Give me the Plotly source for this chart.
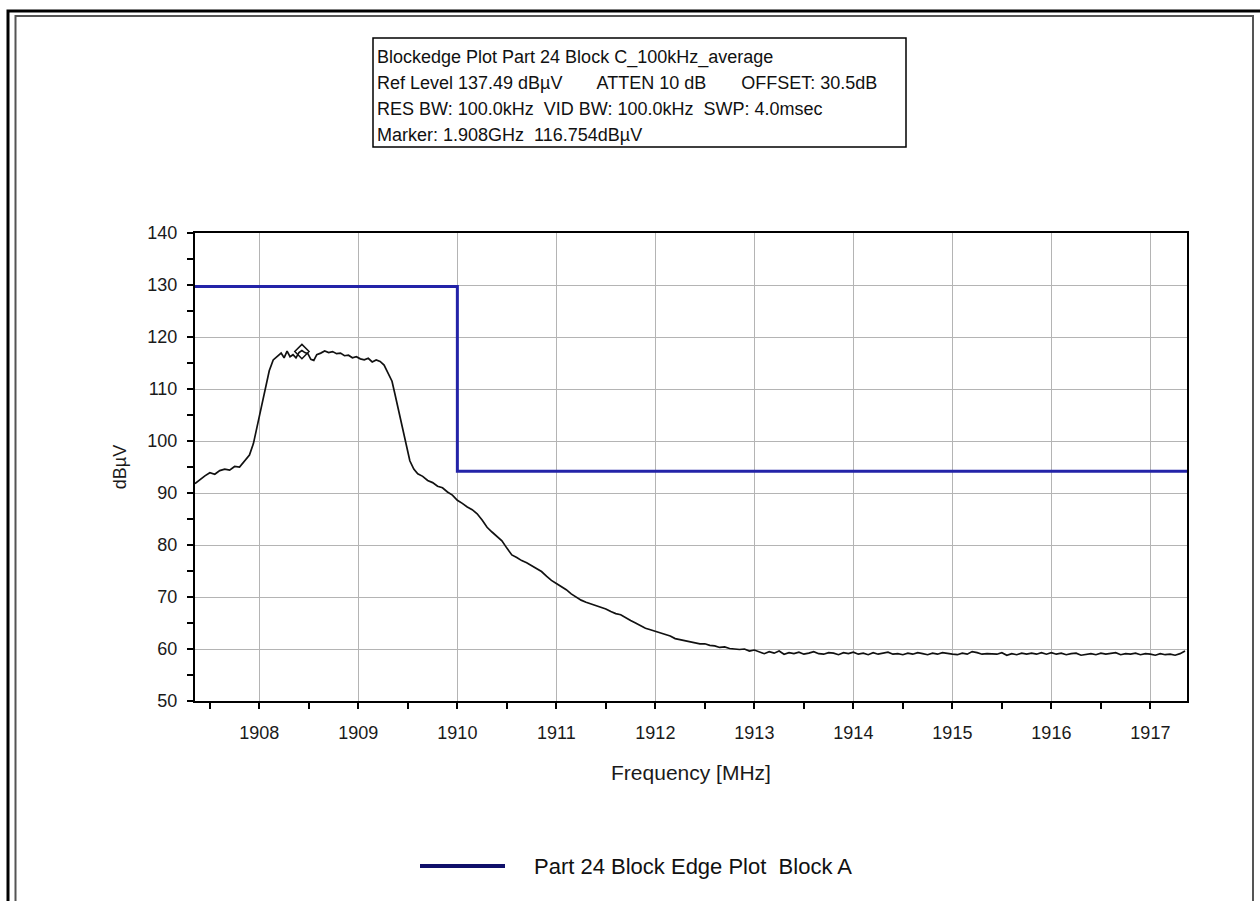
import plotly.graph_objects as go

# ---------------- data ----------------
freq_mhz = [
    1907.35, 1907.40, 1907.45, 1907.50, 1907.55, 1907.60, 1907.65, 1907.70, 1907.75, 1907.80,
    1907.85, 1907.90, 1907.94, 1907.98, 1908.02, 1908.06, 1908.10, 1908.14, 1908.18, 1908.22,
    1908.25, 1908.28, 1908.31, 1908.34, 1908.37, 1908.40, 1908.43, 1908.46, 1908.49, 1908.52,
    1908.55, 1908.58, 1908.62, 1908.66, 1908.70, 1908.74, 1908.78, 1908.82, 1908.86, 1908.90,
    1908.94, 1908.98, 1909.02, 1909.06, 1909.10, 1909.14, 1909.18, 1909.22, 1909.26, 1909.30,
    1909.34, 1909.37, 1909.40, 1909.43, 1909.46, 1909.49, 1909.52, 1909.56, 1909.60, 1909.65,
    1909.70, 1909.75, 1909.80, 1909.85, 1909.90, 1909.95, 1910.00, 1910.05, 1910.10, 1910.15,
    1910.20, 1910.25, 1910.30, 1910.35, 1910.40, 1910.45, 1910.50, 1910.55, 1910.60, 1910.65,
    1910.70, 1910.75, 1910.80, 1910.85, 1910.90, 1910.95, 1911.00, 1911.05, 1911.10, 1911.15,
    1911.20, 1911.25, 1911.30, 1911.35, 1911.40, 1911.45, 1911.50, 1911.55, 1911.60, 1911.65,
    1911.70, 1911.75, 1911.80, 1911.85, 1911.90, 1911.95, 1912.00, 1912.05, 1912.10, 1912.15,
    1912.20, 1912.25, 1912.30, 1912.35, 1912.40, 1912.45, 1912.50, 1912.55, 1912.60, 1912.65,
    1912.70, 1912.75, 1912.80, 1912.85, 1912.90, 1912.95, 1913.00, 1913.05, 1913.10, 1913.15,
    1913.20, 1913.25, 1913.30, 1913.35, 1913.40, 1913.45, 1913.50, 1913.55, 1913.60, 1913.65,
    1913.70, 1913.75, 1913.80, 1913.85, 1913.90, 1913.95, 1914.00, 1914.05, 1914.10, 1914.15,
    1914.20, 1914.25, 1914.30, 1914.35, 1914.40, 1914.45, 1914.50, 1914.55, 1914.60, 1914.65,
    1914.70, 1914.75, 1914.80, 1914.85, 1914.90, 1914.95, 1915.00, 1915.05, 1915.10, 1915.15,
    1915.20, 1915.25, 1915.30, 1915.35, 1915.40, 1915.45, 1915.50, 1915.55, 1915.60, 1915.65,
    1915.70, 1915.75, 1915.80, 1915.85, 1915.90, 1915.95, 1916.00, 1916.05, 1916.10, 1916.15,
    1916.20, 1916.25, 1916.30, 1916.35, 1916.40, 1916.45, 1916.50, 1916.55, 1916.60, 1916.65,
    1916.70, 1916.75, 1916.80, 1916.85, 1916.90, 1916.95, 1917.00, 1917.05, 1917.10, 1917.15,
    1917.20, 1917.25, 1917.30, 1917.35,
]
level_dbuv = [
    91.8, 92.6, 93.3, 93.9, 93.6, 94.3, 94.6, 94.4, 95.1, 95.0,
    96.2, 97.3, 99.5, 103.0, 107.0, 110.0, 113.5, 115.6, 116.3, 116.9,
    116.0, 117.3, 116.2, 116.6, 116.0, 117.0, 117.4, 117.0, 116.8, 115.7,
    115.5, 116.6, 116.9, 117.3, 117.0, 117.2, 116.8, 116.9, 116.4, 116.5,
    116.0, 116.2, 115.8, 115.6, 115.9, 115.2, 115.6, 115.3, 114.6, 113.2,
    111.5, 109.0, 106.5, 104.0, 101.5, 98.5, 96.2, 94.6, 93.7, 93.2,
    92.4, 92.0, 91.3, 91.0, 90.2, 89.6, 88.6, 88.0, 87.3, 86.8,
    86.0, 84.8, 83.4, 82.5, 81.6, 80.8, 79.4, 78.1, 77.6, 77.0,
    76.6, 76.0, 75.5, 74.9, 74.0, 73.2, 72.6, 72.0, 71.4, 70.6,
    70.0, 69.4, 69.0, 68.7, 68.4, 68.1, 67.7, 67.2, 66.8, 66.6,
    66.0, 65.5, 65.0, 64.5, 64.0, 63.7, 63.4, 63.0, 62.8, 62.5,
    62.0, 61.8, 61.6, 61.4, 61.2, 61.0, 61.0, 60.7, 60.6, 60.3,
    60.4, 60.1, 60.0, 59.9, 60.0, 59.6, 59.8, 59.4, 59.1, 59.5,
    59.2, 59.6, 59.0, 59.3, 59.1, 59.4, 59.0, 59.2, 59.5, 59.1,
    59.0, 59.3, 59.2, 58.9, 59.3, 59.1, 59.4, 59.0, 59.2, 58.9,
    59.3, 59.0, 59.2, 59.4, 59.0, 59.1, 58.9, 59.2, 59.0, 59.3,
    59.1, 58.9, 59.2, 59.0, 59.3, 59.1, 59.0, 58.9, 59.2, 59.0,
    59.5, 59.3, 59.0, 59.1, 59.1, 59.0, 59.3, 58.8, 59.1, 58.9,
    59.2, 59.0, 59.2, 59.0, 59.3, 59.0, 59.3, 59.0, 59.2, 58.9,
    59.1, 59.2, 58.8, 59.0, 59.1, 58.9, 59.2, 59.0, 59.1, 59.3,
    58.9, 59.1, 59.0, 59.2, 58.9, 59.1, 59.0, 58.8, 59.1, 58.9,
    59.0, 58.8, 59.1, 59.6,
]

limit_freq = [1907.35, 1910.0, 1910.0, 1917.37]
limit_level = [129.7, 129.7, 94.2, 94.2]
limit_name = "Part 24 Block Edge Plot  Block A"

marker_freq = [1908.43]
marker_level = [117.2]

info_lines = [
    "Blockedge Plot Part 24 Block C_100kHz_average",
    "Ref Level 137.49 dBµV       ATTEN 10 dB       OFFSET: 30.5dB",
    "RES BW: 100.0kHz  VID BW: 100.0kHz  SWP: 4.0msec",
    "Marker: 1.908GHz  116.754dBµV",
]

x_range = [1907.35, 1917.37]
y_range = [50, 140]

# ---------------- layout helpers ----------------
W, H = 1260, 901
L, R, T, B = 195, 1187, 233, 701
FONT = "Liberation Sans, Arial, sans-serif"
BLUE = "#2323a8"
TXT = "#1a1a1a"


def px(xp):
    return (xp - L) / (R - L)


def py(yp):
    return (B - yp) / (B - T)


fig = go.Figure()
fig.add_trace(go.Scatter(x=limit_freq, y=limit_level, mode="lines",
                         line=dict(color=BLUE, width=3), name=limit_name,
                         showlegend=False))
fig.add_trace(go.Scatter(x=freq_mhz, y=level_dbuv, mode="lines",
                         line=dict(color="#111111", width=1.7), showlegend=False))
fig.add_trace(go.Scatter(x=marker_freq, y=marker_level, mode="markers",
                         marker=dict(symbol="diamond-open", size=11, color="#111111",
                                     line=dict(width=1.5)), showlegend=False))

axis_common = dict(
    showline=True, linecolor="black", linewidth=2, mirror=True,
    ticks="outside", ticklen=6, tickwidth=2, tickcolor="black",
    showgrid=True, gridcolor="#b4b4b4", gridwidth=1,
    zeroline=False,
    tickfont=dict(family=FONT, size=18, color=TXT),
)

fig.update_xaxes(range=x_range, dtick=1, tick0=1908, **axis_common,
                 minor=dict(dtick=0.5, tick0=1907.5, ticks="outside", ticklen=6,
                            tickwidth=2, tickcolor="black", showgrid=False),
                 ticklabelstandoff=8,
                 title=dict(text="Frequency [MHz]", standoff=24,
                            font=dict(family=FONT, size=21, color=TXT)))
fig.update_yaxes(range=y_range, dtick=10, tick0=50, **axis_common,
                 minor=dict(dtick=5, tick0=50, ticks="outside", ticklen=6,
                            tickwidth=2, tickcolor="black", showgrid=False),
                 ticklabelstandoff=6,
                 title=dict(text="dBµV", standoff=16,
                            font=dict(family=FONT, size=18, color=TXT)))

shapes = [
    # outer frame (double line)
    dict(type="rect", xref="paper", yref="paper", x0=px(8), x1=px(1275), y0=py(11), y1=py(915),
         line=dict(color="black", width=3), fillcolor="rgba(0,0,0,0)", layer="below"),
    dict(type="rect", xref="paper", yref="paper", x0=px(15.5), x1=px(1253), y0=py(16), y1=py(915),
         line=dict(color="#555555", width=2), fillcolor="rgba(0,0,0,0)", layer="below"),
    # info box
    dict(type="rect", xref="paper", yref="paper", x0=px(373), x1=px(906), y0=py(38), y1=py(147),
         line=dict(color="black", width=1.5), fillcolor="white"),
    # legend sample line
    dict(type="line", xref="paper", yref="paper", x0=px(420), x1=px(505), y0=py(866), y1=py(866),
         line=dict(color="#10106a", width=4)),
]

annotations = []
for i, line in enumerate(info_lines):
    annotations.append(dict(xref="paper", yref="paper", x=px(375), y=py(57 + i * 26),
                            xanchor="left", yanchor="middle", showarrow=False, text=line,
                            font=dict(family=FONT, size=18, color="#111111")))
annotations.append(dict(xref="paper", yref="paper", x=px(532), y=py(866),
                        xanchor="left", yanchor="middle", showarrow=False, text=limit_name,
                        font=dict(family=FONT, size=22, color="#111111")))

fig.update_layout(
    width=W, height=H,
    margin=dict(l=L, r=W - R, t=T, b=H - B, pad=0),
    paper_bgcolor="white", plot_bgcolor="white",
    shapes=shapes, annotations=annotations,
    showlegend=False,
    font=dict(family=FONT, color=TXT),
)

fig.write_html("out.html", config={"displayModeBar": False})
